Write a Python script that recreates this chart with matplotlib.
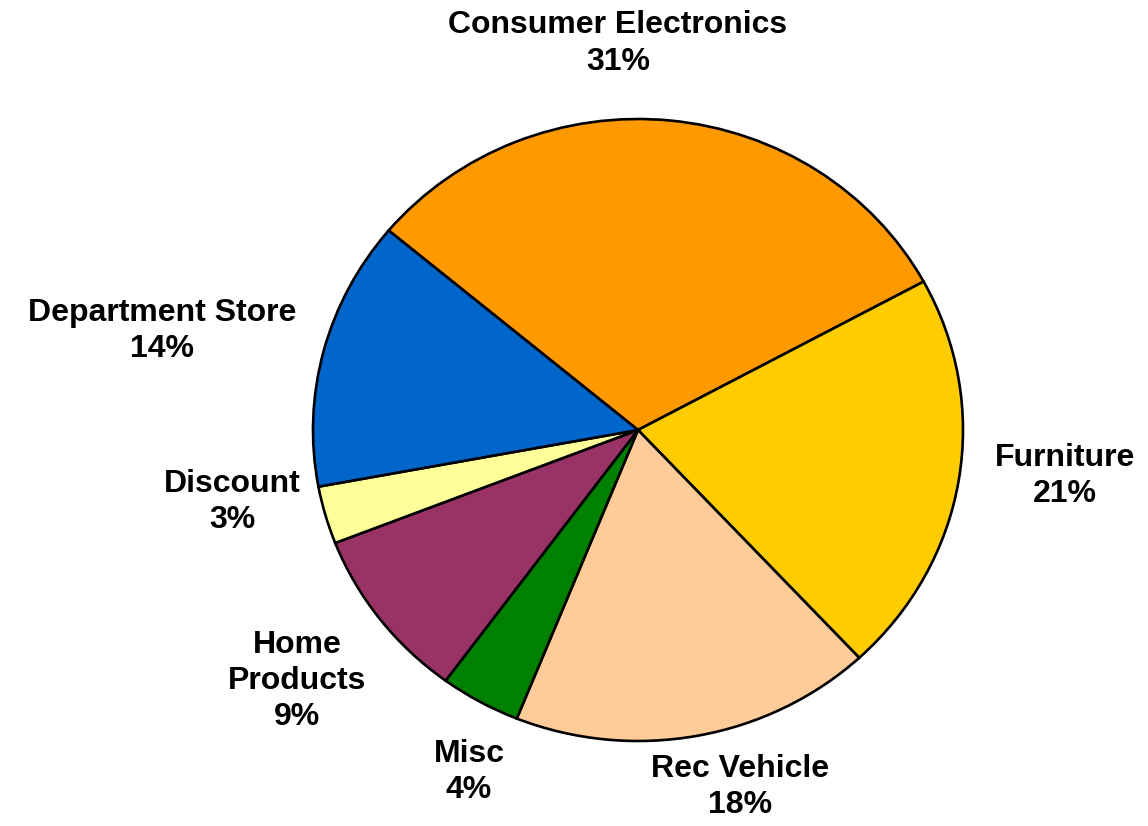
import matplotlib
matplotlib.use("Agg")
import matplotlib.pyplot as plt

# Share of sales by retail channel
categories = ["Consumer Electronics", "Furniture", "Rec Vehicle", "Misc",
              "Home Products", "Discount", "Department Store"]
label_lines = ["Consumer Electronics", "Furniture", "Rec Vehicle", "Misc",
               "Home\nProducts", "Discount", "Department Store"]
shares = [31, 21, 18, 4, 9, 3, 14]
colors = ["#FF9900", "#FFCC00", "#FFCC99", "#008000",
          "#993366", "#FFFF99", "#0066CC"]

# Label anchor points (axes data units, pie radius = 1)
label_xy = [(-0.062, 1.243), (1.314, -0.148), (0.314, -1.148), (-0.52, -1.10),
            (-1.049, -0.807), (-1.249, -0.232), (-1.465, 0.318)]

fig = plt.figure(figsize=(11.48, 8.26), dpi=100)
ax = fig.add_axes([313 / 1148, (826 - 741) / 826, 650 / 1148, 622 / 826])

ax.pie(shares, colors=colors, startangle=140.1, counterclock=False, radius=1,
       wedgeprops=dict(edgecolor="black", linewidth=1.9))
ax.set_aspect("auto")
ax.set_xlim(-1, 1)
ax.set_ylim(-1, 1)
ax.axis("off")

for text, share, (x, y) in zip(label_lines, shares, label_xy):
    ax.text(x, y, f"{text}\n{share}%", ha="center", va="center",
            fontsize=23, fontweight="bold", family=["Liberation Sans", "DejaVu Sans"],
            linespacing=1.27, clip_on=False)

fig.savefig("out.png", dpi=100)
